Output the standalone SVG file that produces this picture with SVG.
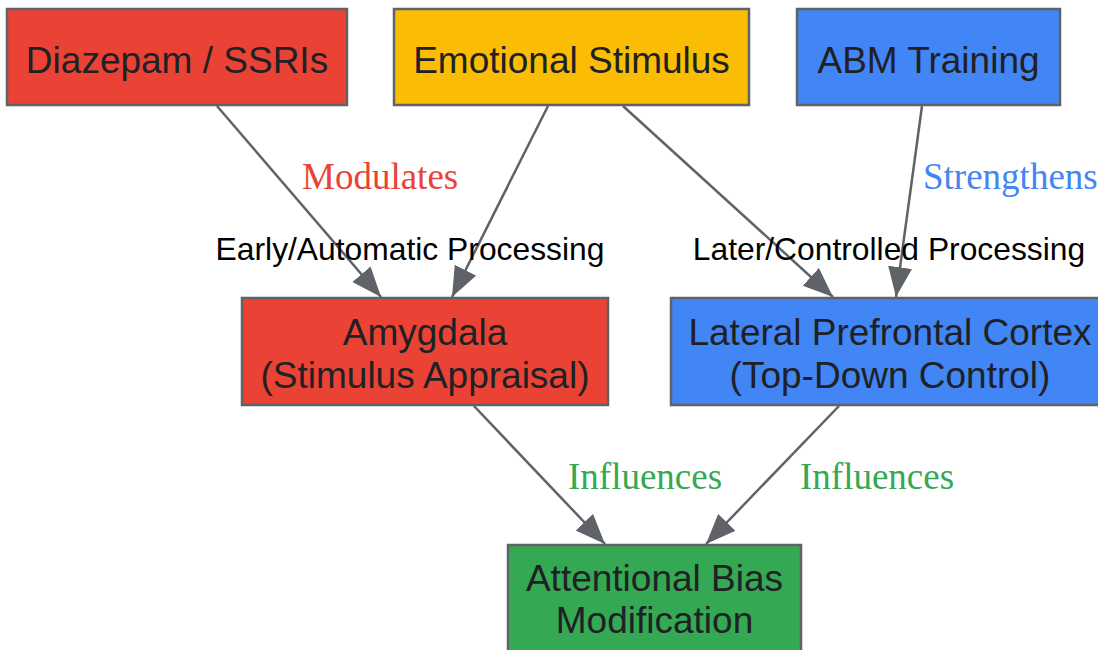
<svg xmlns="http://www.w3.org/2000/svg" width="1098" height="650" viewBox="0 0 1098 650">
<style>
.node rect{stroke:#5f6368;stroke-width:2.5}
.nt{font-family:"Liberation Sans",Arial,sans-serif;font-size:37px;fill:#202124;text-anchor:middle}
.el{font-family:"Liberation Sans",Arial,sans-serif;font-size:31.8px;fill:#000;text-anchor:middle}
.sl{font-family:"Liberation Serif","Times New Roman",serif;font-size:37px}
.edge{stroke:#5f6368;stroke-width:2.5;fill:none;marker-end:url(#ah)}
</style>
<defs>
<marker id="ah" markerUnits="userSpaceOnUse" markerWidth="32" markerHeight="26" refX="30" refY="12" orient="auto" viewBox="0 0 32 26">
<path d="M0,0 L30,12 L0,24 Z" fill="#5f6368"/>
</marker>
</defs>
<rect width="1098" height="650" fill="#fff"/>
<g id="connectors">
<line class="edge" x1="217" y1="106" x2="381" y2="297"/>
<line class="edge" x1="548" y1="106" x2="452" y2="297"/>
<line class="edge" x1="623" y1="106" x2="833" y2="297"/>
<line class="edge" x1="922" y1="106" x2="896" y2="297"/>
<line class="edge" x1="474" y1="406" x2="605" y2="544"/>
<line class="edge" x1="839" y1="406" x2="706" y2="544"/>
<text class="sl" x="302" y="189" fill="#EA4335">Modulates</text>
<text class="sl" x="923" y="189" fill="#4285F4">Strengthens</text>
<text class="el" x="410" y="260">Early/Automatic Processing</text>
<text class="el" x="889" y="260">Later/Controlled Processing</text>
<text class="sl" x="568" y="489" fill="#34A853">Influences</text>
<text class="sl" x="800" y="489" fill="#34A853">Influences</text>
</g>
<g id="diazepam" class="node">
<rect x="7" y="9" width="340" height="96" fill="#EA4335"/>
<text class="nt" x="177" y="73">Diazepam / SSRIs</text>
</g>
<g id="stimulus" class="node">
<rect x="394" y="9" width="355" height="96" fill="#FBBC04"/>
<text class="nt" x="571.5" y="73">Emotional Stimulus</text>
</g>
<g id="abm" class="node">
<rect x="797" y="9" width="263" height="96" fill="#4285F4"/>
<text class="nt" x="928.5" y="73">ABM Training</text>
</g>
<g id="amygdala" class="node">
<rect x="242" y="298" width="366" height="107" fill="#EA4335"/>
<text class="nt" x="425" y="345">Amygdala</text>
<text class="nt" x="425" y="388">(Stimulus Appraisal)</text>
</g>
<g id="lpfc" class="node">
<rect x="671" y="298" width="440" height="107" fill="#4285F4"/>
<text class="nt" x="890" y="345">Lateral Prefrontal Cortex</text>
<text class="nt" x="890" y="388">(Top-Down Control)</text>
</g>
<g id="abm_outcome" class="node">
<rect x="508" y="545" width="293" height="110" fill="#34A853"/>
<text class="nt" x="654.5" y="591">Attentional Bias</text>
<text class="nt" x="654.5" y="633">Modification</text>
</g>
</svg>
